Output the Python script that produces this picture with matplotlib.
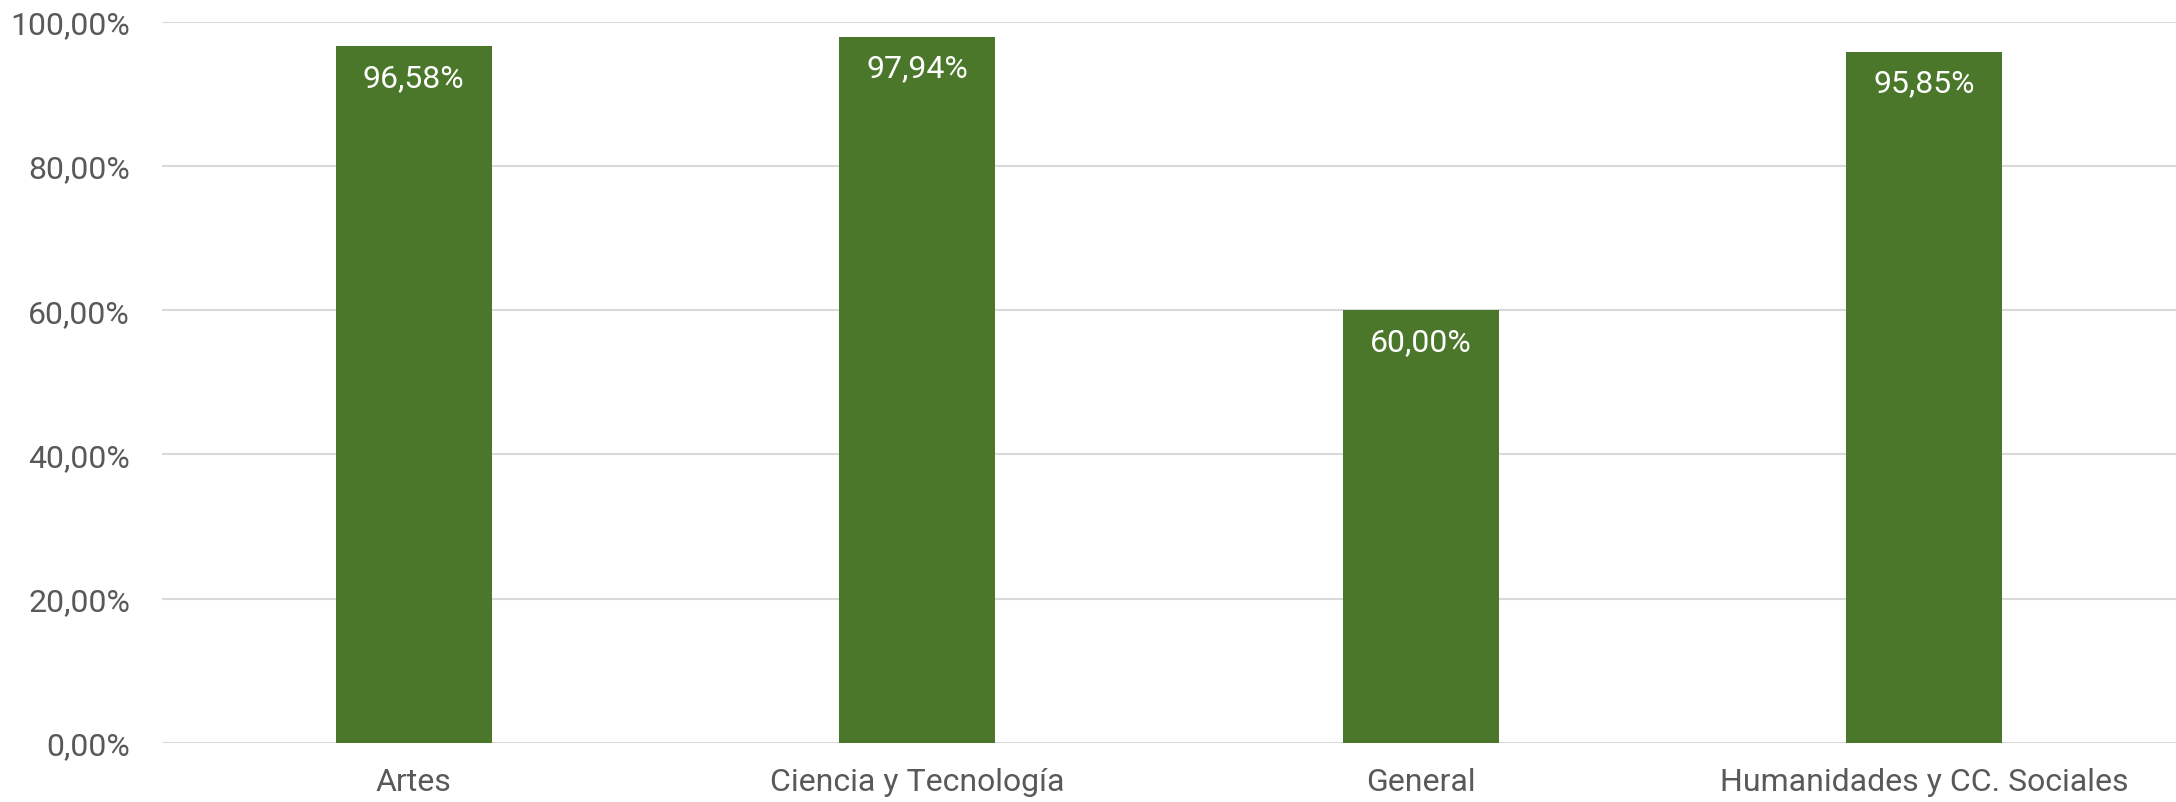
import numpy as np
import matplotlib.pyplot as plt
from matplotlib.ticker import FuncFormatter

categories = ['Artes', 'Ciencia y Tecnología', 'General', 'Humanidades y CC. Sociales']
values = [96.58, 97.94, 60.00, 95.85]
yticks = [0, 20, 40, 60, 80, 100]

plt.rcParams['font.family'] = ['Roboto', 'DejaVu Sans']

fig = plt.figure(figsize=(21.76, 8.03), dpi=100)
ax = fig.add_axes([0.0744, 0.0735, 0.9256, 0.8982])

x = np.arange(len(categories))
bars = ax.bar(x, values, width=0.31, color='#4A7729', zorder=3)

# labels inside the top of each bar
for xi, v in zip(x, values):
    ax.annotate('{:.2f}%'.format(v).replace('.', ','), (xi, v),
                xytext=(0, -12), textcoords='offset points',
                ha='center', va='top', color='white', fontsize=23)

ax.set_xlim(-0.5, len(categories) - 0.5)
ax.set_ylim(0, 100)
ax.set_yticks(yticks)
ax.yaxis.set_major_formatter(FuncFormatter(lambda v, p: '{:.2f}%'.format(v).replace('.', ',')))
ax.set_xticks(x)
ax.set_xticklabels(categories)

ax.grid(axis='y', color='#D9D9D9', linewidth=1.5, zorder=0)
for s in ax.spines.values():
    s.set_visible(False)
ax.tick_params(axis='both', length=0, labelsize=23, labelcolor='#595959')
ax.tick_params(axis='y', pad=23)
ax.tick_params(axis='x', pad=17)

fig.savefig('out.png', dpi=100)
